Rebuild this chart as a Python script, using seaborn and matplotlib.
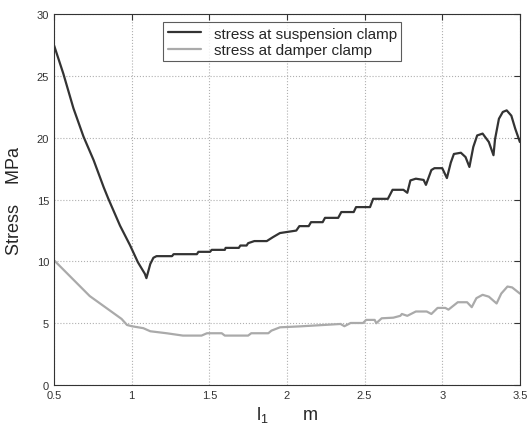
import pandas as pd
import numpy as np
import matplotlib
matplotlib.use("Agg")
import matplotlib.pyplot as plt
import seaborn as sns

# values
susp_x = [0.5, 0.56, 0.625, 0.69, 0.755, 0.82, 0.85, 0.925, 0.99, 1.04, 1.085, 1.095,
          1.12, 1.14, 1.16, 1.26, 1.27, 1.42, 1.43, 1.505, 1.515, 1.6, 1.605, 1.69,
          1.70, 1.74, 1.75, 1.79, 1.87, 1.91, 1.955, 2.06, 2.08, 2.14, 2.155, 2.23,
          2.245, 2.33, 2.35, 2.43, 2.445, 2.535, 2.555, 2.65, 2.68, 2.75, 2.775, 2.795,
          2.83, 2.88, 2.895, 2.93, 2.95, 3.0, 3.03, 3.055, 3.075, 3.12, 3.15, 3.175,
          3.2, 3.225, 3.26, 3.30, 3.33, 3.34, 3.365, 3.39, 3.415, 3.445, 3.47, 3.5]
susp_y = [27.5, 25.2, 22.4, 20.1, 18.2, 16.0, 15.07, 12.9, 11.3, 9.94, 9.0, 8.65,
          9.8, 10.3, 10.43, 10.43, 10.59, 10.59, 10.78, 10.78, 10.94, 10.94, 11.1, 11.1,
          11.29, 11.29, 11.48, 11.65, 11.65, 11.97, 12.3, 12.5, 12.86, 12.86, 13.18, 13.18,
          13.53, 13.53, 14.0, 14.0, 14.4, 14.4, 15.07, 15.07, 15.8, 15.8, 15.56, 16.56,
          16.7, 16.6, 16.2, 17.4, 17.55, 17.55, 16.75, 18.0, 18.7, 18.8, 18.45, 17.65,
          19.27, 20.2, 20.35, 19.67, 18.6, 19.9, 21.55, 22.1, 22.23, 21.8, 20.75, 19.67]

damp_x = [0.5, 0.73, 0.935, 0.97, 1.0, 1.075, 1.12, 1.225, 1.33, 1.45, 1.485, 1.58,
          1.6, 1.75, 1.77, 1.88, 1.9, 1.955, 2.09, 2.345, 2.37, 2.41, 2.49, 2.51,
          2.565, 2.575, 2.61, 2.685, 2.73, 2.74, 2.775, 2.83, 2.9, 2.93, 2.97, 3.02,
          3.04, 3.1, 3.16, 3.19, 3.22, 3.26, 3.3, 3.35, 3.38, 3.42, 3.45, 3.5]
damp_y = [10.1, 7.2, 5.35, 4.86, 4.76, 4.6, 4.35, 4.19, 4.0, 4.0, 4.19, 4.19,
          4.0, 4.0, 4.19, 4.19, 4.4, 4.67, 4.75, 4.94, 4.76, 5.02, 5.02, 5.27,
          5.27, 5.0, 5.4, 5.45, 5.6, 5.75, 5.6, 5.95, 5.95, 5.75, 6.24, 6.24,
          6.1, 6.7, 6.7, 6.3, 7.03, 7.3, 7.15, 6.6, 7.4, 7.97, 7.9, 7.4]

labels = ["stress at suspension clamp", "stress at damper clamp"]
colors = ["#333333", "#aaaaaa"]

df = pd.concat([
    pd.DataFrame({"l1": susp_x, "stress": susp_y, "series": labels[0]}),
    pd.DataFrame({"l1": damp_x, "stress": damp_y, "series": labels[1]}),
])

sns.set_style("white")
plt.rcParams["font.family"] = ["Liberation Sans", "DejaVu Sans"]

fig = plt.figure(figsize=(5.27, 4.27), dpi=100)
ax = fig.add_axes([0.1025, 0.096, 0.884, 0.868])

sns.lineplot(data=df, x="l1", y="stress", hue="series", palette=colors,
             sort=False, estimator=None, linewidth=1.6, ax=ax)

ax.set_xlim(0.5, 3.5)
ax.set_ylim(0, 30)
ax.set_xticks([0.5, 1, 1.5, 2, 2.5, 3, 3.5])
ax.set_xticklabels(["0.5", "1", "1.5", "2", "2.5", "3", "3.5"])
ax.set_yticks([0, 5, 10, 15, 20, 25, 30])
ax.grid(True, linestyle=":", color="#b0b0b0", linewidth=0.8)
ax.tick_params(direction="in", length=4, labelsize=8, colors="#333333",
               top=True, right=True, labelcolor="#333333")
for s in ax.spines.values():
    s.set_color("#333333")
    s.set_linewidth(0.8)

ax.set_xlabel(r"$\mathregular{l_1}$       m", fontsize=13, labelpad=3)
ax.set_ylabel("Stress    MPa", fontsize=13, labelpad=10)

leg = ax.legend(loc="upper center", bbox_to_anchor=(0.49, 1.0), fontsize=11,
                frameon=True, fancybox=False, edgecolor="#333333",
                handlelength=2.2, borderpad=0.3, labelspacing=0.15)
leg.get_frame().set_linewidth(0.8)

fig.savefig("out.png", dpi=100)
